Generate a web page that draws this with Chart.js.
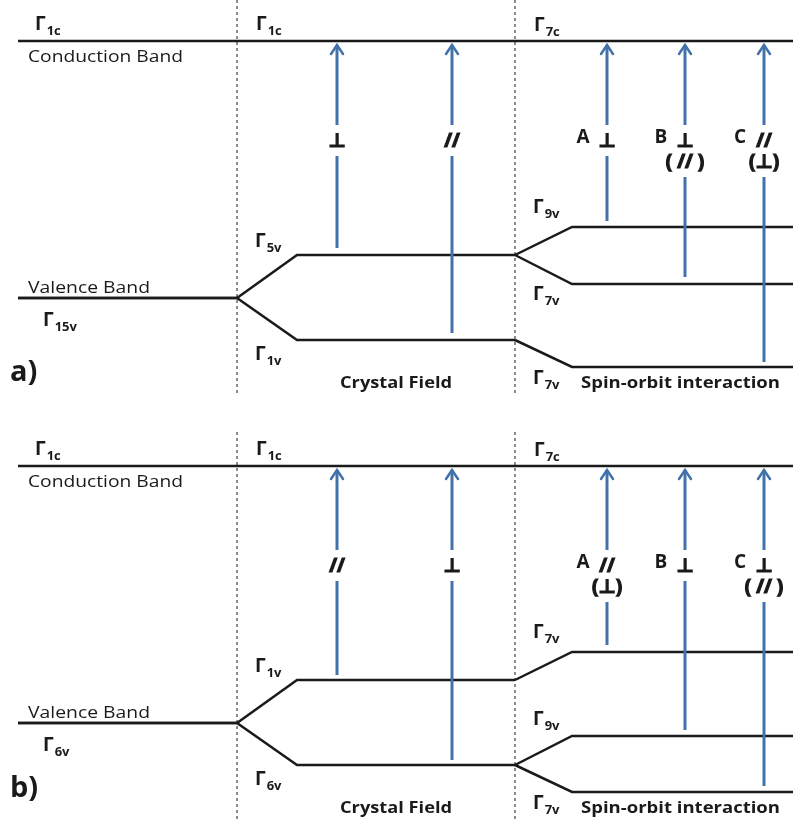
<!DOCTYPE html>
<html>
<head>
<meta charset="utf-8">
<script src="https://cdn.jsdelivr.net/npm/chart.js@4/dist/chart.umd.min.js"></script>
<style>
  html, body { margin: 0; padding: 0; background: #fff; }
</style>
</head>
<body>
<canvas id="bands" width="793" height="820"></canvas>
<script>
// band levels (y grows downward, same units as the picture)
const panelShift = [0, 425];
const stageX = [18, 237, 297, 515, 572, 793];
const conductionLevel = [41, 466];
const valenceLevel = [298, 723];
const crystalLevels = [[255, 340], [680, 765]];
const spinOrbitLevels = [[[227, 284], [367]], [[652], [736, 792]]];
const dividerX = [237, 515];
const dividerSpan = [[0, 395], [432, 820]];

// optical transitions
const arrowX = [337, 452, 607, 685, 764];
const arrowFrom = [[248, 333, 221, 277, 362], [675, 760, 645, 730, 786]];
const arrowLetter = ['', '', 'A', 'B', 'C'];
const polar = [['⊥', '//', '⊥', '⊥', '//'], ['//', '⊥', '//', '⊥', '⊥']];
const polar2 = [['', '', '', '( // )', '(⊥)'], ['', '', '(⊥)', '', '( // )']];

// Γ labels
const gammaSub = [
    ['1c', '1c', '7c', '15v', '5v', '1v', '9v', '7v', '7v'],
    ['1c', '1c', '7c', '6v', '1v', '6v', '7v', '9v', '7v']
];
const gammaAt = [[35, 30], [256, 30], [534, 31], [43, 326], [255, 247], [255, 360], [533, 213], [533, 300], [533, 384]];
const panelName = ['a)', 'b)'];

const arrowBlue = '#4372aa';
const ink = '#1a1a1a';
const datasets = [];

function addLine(pts, extra) {
    datasets.push(Object.assign({
        data: pts.map(p => ({ x: p[0], y: p[1] })),
        showLine: true,
        pointRadius: 0,
        borderColor: ink,
        borderWidth: 2.5,
        fill: false,
        tension: 0,
        order: 1
    }, extra));
}

panelShift.forEach((dy, p) => {
    dividerX.forEach(x => addLine([[x, dividerSpan[p][0]], [x, dividerSpan[p][1]]],
        { borderColor: '#666', borderWidth: 1.5, borderDash: [3, 3], order: 2 }));

    addLine([[stageX[0], conductionLevel[p]], [stageX[5], conductionLevel[p]]]);
    const v = valenceLevel[p];
    crystalLevels[p].forEach((cf, i) => {
        addLine([[stageX[0], v], [stageX[1], v], [stageX[2], cf], [stageX[3], cf]]);
        spinOrbitLevels[p][i].forEach(so => addLine([[stageX[3], cf], [stageX[4], so], [stageX[5], so]]));
    });

    arrowX.forEach((x, i) => addLine([[x, arrowFrom[p][i]], [x, conductionLevel[p] + 4]],
        { borderColor: arrowBlue, borderWidth: 3, order: 0 }));
});

function fitText(ctx, text, x, y, font, width) {
    ctx.font = font;
    const w = ctx.measureText(text).width;
    ctx.save();
    ctx.translate(x, y);
    ctx.scale(width / w, 1);
    ctx.textAlign = 'left';
    ctx.fillText(text, 0, 0);
    ctx.restore();
}

const bandLabels = {
    id: 'bandLabels',
    afterDatasetsDraw(chart) {
        const ctx = chart.ctx;
        const X = v => chart.scales.x.getPixelForValue(v);
        const Y = v => chart.scales.y.getPixelForValue(v);
        ctx.save();
        panelShift.forEach((dy, p) => {
            // arrow heads
            ctx.strokeStyle = arrowBlue;
            ctx.lineWidth = 2.5;
            ctx.lineCap = 'round';
            arrowX.forEach(x => {
                const tx = X(x), ty = Y(conductionLevel[p] + 4);
                ctx.beginPath();
                ctx.moveTo(tx - 6, ty + 9);
                ctx.lineTo(tx, ty);
                ctx.lineTo(tx + 6, ty + 9);
                ctx.stroke();
            });

            // polarisation marks
            ctx.textBaseline = 'middle';
            ctx.textAlign = 'center';
            ctx.strokeStyle = ink;
            ctx.lineWidth = 1.2;
            arrowX.forEach((x, i) => {
                const cx = X(x), cy = Y(142 + dy);
                const second = polar2[p][i];
                ctx.font = 'bold 19px "Open Sans", "DejaVu Sans"';
                const w = Math.max(ctx.measureText(polar[p][i]).width, second ? ctx.measureText(second).width : 0);
                ctx.fillStyle = '#fff';
                ctx.fillRect(cx - w / 2 - 3, cy - 17, w + 6, second ? 52 : 31);
                ctx.fillStyle = ink;
                ctx.fillText(polar[p][i], cx, cy);
                ctx.strokeText(polar[p][i], cx, cy);
                if (second) {
                    ctx.fillText(second, cx, cy + 21);
                    ctx.strokeText(second, cx, cy + 21);
                }
                if (arrowLetter[i]) ctx.fillText(arrowLetter[i], cx - 24, cy - 4);
            });

            // Γ symbols
            ctx.textBaseline = 'alphabetic';
            ctx.textAlign = 'left';
            gammaAt.forEach((pos, i) => {
                const gx = X(pos[0]), gy = Y(pos[1] + dy);
                ctx.font = 'bold 19px "Open Sans"';
                ctx.fillText('Γ', gx, gy);
                const w = ctx.measureText('Γ').width;
                ctx.font = 'bold 13px "Open Sans"';
                ctx.fillText(gammaSub[p][i], gx + w + 1, gy + 5);
            });

            fitText(ctx, 'Conduction Band', X(28), Y(62 + dy), '17px "Open Sans"', 155);
            fitText(ctx, 'Valence Band', X(28), Y(293 + dy), '17px "Open Sans"', 122);
            fitText(ctx, 'Crystal Field', X(340), Y(388 + dy), 'bold 16px "Open Sans"', 112);
            fitText(ctx, 'Spin-orbit interaction', X(581), Y(388 + dy), 'bold 16px "Open Sans"', 199);
            ctx.font = 'bold 29px "Open Sans"';
            ctx.fillText(panelName[p], X(10), Y(p ? 797 : 381));
        });
        ctx.restore();
    }
};

new Chart(document.getElementById('bands'), {
    type: 'scatter',
    data: { datasets: datasets },
    options: {
        responsive: false,
        animation: false,
        layout: { padding: 0 },
        scales: {
            x: { type: 'linear', min: 0, max: 793, display: false },
            y: { type: 'linear', min: 0, max: 820, reverse: true, display: false }
        },
        plugins: { legend: { display: false }, tooltip: { enabled: false } },
        elements: { line: { borderJoinStyle: 'miter', borderCapStyle: 'butt' } }
    },
    plugins: [bandLabels]
});
</script>
</body>
</html>
